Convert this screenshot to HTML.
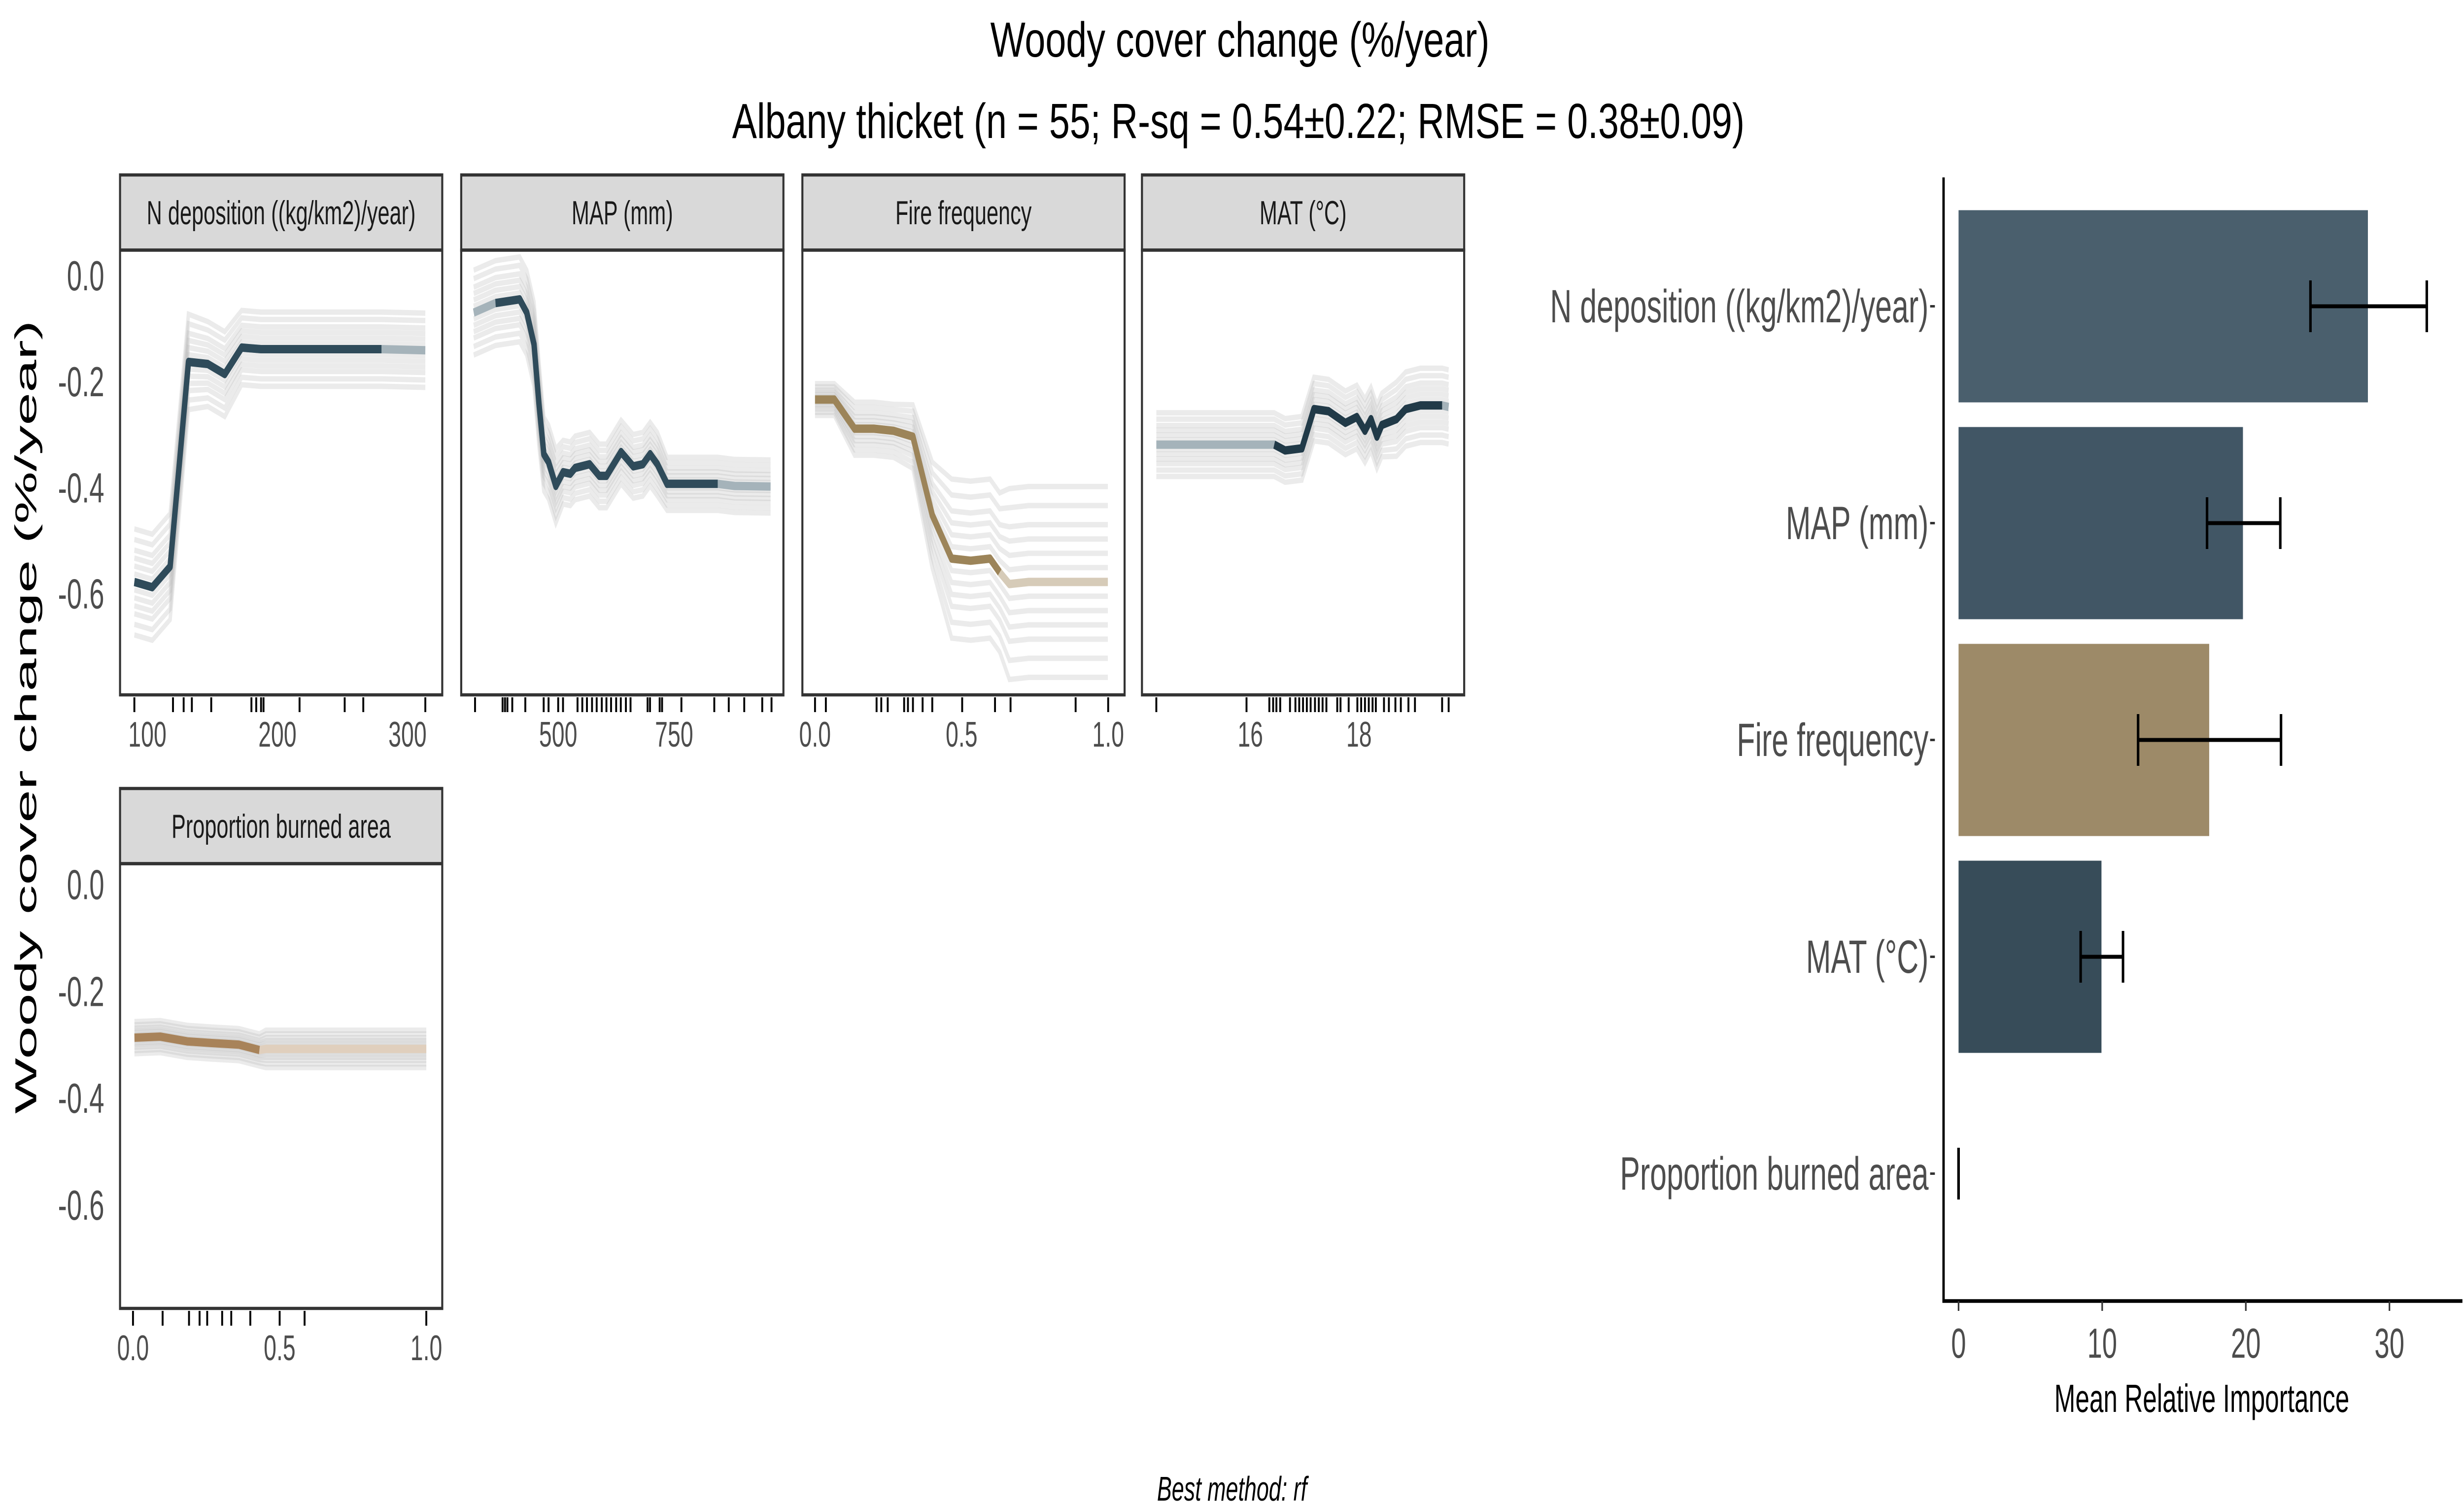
<!DOCTYPE html>
<html><head><meta charset="utf-8"><style>
html,body{margin:0;padding:0;background:#fff;width:100vw;height:100vh;overflow:hidden;}
svg{display:block;position:absolute;left:0;top:0;width:100vw;height:100vh;font-family:"Liberation Sans",Arial,sans-serif;}
</style></head><body>
<svg id="chart" xmlns="http://www.w3.org/2000/svg" viewBox="0 0 1560 612" preserveAspectRatio="none">
<rect x="0" y="0" width="1560" height="612" fill="#fff"/>
<text x="785" y="23" font-size="20" text-anchor="middle" fill="#000" textLength="316" lengthAdjust="spacingAndGlyphs">Woody cover change (%/year)</text>
<text x="784" y="56" font-size="20" text-anchor="middle" fill="#000" textLength="641" lengthAdjust="spacingAndGlyphs">Albany thicket (n = 55; R-sq = 0.54±0.22; RMSE = 0.38±0.09)</text>
<text transform="translate(23,291) rotate(-90)" font-size="19" text-anchor="middle" fill="#000" textLength="322" lengthAdjust="spacingAndGlyphs">Woody cover change (%/year)</text>
<text x="780" y="609" font-size="14" font-style="italic" text-anchor="middle" fill="#000">Best method: rf</text>
<g id="panels"></g>
<g id="bars"></g>
</svg>
<script>
// ---------- Partial dependence data ----------
const nX = [90,103.8,117.5,131.6,146.5,159.5,172.5,187.3,280,313.7];
const nY = [-0.578,-0.588,-0.549,-0.163,-0.167,-0.186,-0.136,-0.139,-0.139,-0.141];
const nSpread = [0.1,0.1,0.1,0.09,0.08,0.08,0.07,0.07,0.07,0.07];
const nRug = [90,119.7,127.9,134.2,149.1,180,183.7,187.4,189.3,217,251.7,266,313.7];
const nTicks = [100,200,300];

const mapX = [317.8,364.8,416.9,432.2,447.9,458.4,469,479.2,494.9,510.6,526.2,536.4,567.8,588.6,604.2,635.6,661.8,682.6,698.3,713.9,734.7,844,880.5,958];
const mapY = [-0.070,-0.052,-0.045,-0.070,-0.130,-0.241,-0.337,-0.352,-0.397,-0.371,-0.374,-0.363,-0.356,-0.378,-0.378,-0.333,-0.360,-0.356,-0.337,-0.356,-0.393,-0.393,-0.397,-0.398];
const mapSpread = [0.08,0.08,0.08,0.08,0.08,0.08,0.07,0.07,0.07,0.06,0.06,0.06,0.06,0.06,0.06,0.06,0.06,0.06,0.06,0.06,0.05,0.05,0.05,0.05];
const mapRug = [320.7,380.1,385.3,390.5,401,429.1,468.7,479.2,500,510.4,541.7,552,562,573,583,594,604,614,625,635,646,656,692.8,698,718.8,724,765.7,836.6,867.8,901.2,940,960];
const mapTicks = [500,750];

const fireX = [0,0.066,0.135,0.201,0.268,0.334,0.4,0.466,0.531,0.597,0.63,0.663,0.729,0.999];
const fireY = [-0.234,-0.234,-0.289,-0.289,-0.293,-0.304,-0.452,-0.534,-0.538,-0.534,-0.560,-0.582,-0.578,-0.578];
const fireSpread = [0.03,0.03,0.05,0.05,0.05,0.06,0.1,0.15,0.15,0.15,0.15,0.18,0.18,0.18];
const fireRug = [0,0.037,0.21,0.226,0.248,0.304,0.317,0.334,0.367,0.4,0.502,0.614,0.667,0.889,1.0];
const fireTicks = [0,0.5,1.0];

const matX = [14.27,16.44,16.64,16.95,17.17,17.44,17.75,17.96,18.11,18.22,18.33,18.42,18.69,18.86,19.13,19.53,19.65];
const matY = [-0.319,-0.319,-0.330,-0.326,-0.252,-0.256,-0.278,-0.267,-0.293,-0.271,-0.304,-0.282,-0.271,-0.252,-0.245,-0.245,-0.248];
const matSpread = [0.06,0.06,0.06,0.06,0.06,0.06,0.06,0.06,0.06,0.06,0.06,0.06,0.07,0.07,0.07,0.07,0.07];
const matRug = [14.27,15.93,16.35,16.42,16.48,16.55,16.73,16.83,16.9,16.97,17.04,17.11,17.19,17.26,17.33,17.4,17.6,17.66,17.81,17.97,18.04,18.11,18.18,18.25,18.31,18.46,18.55,18.67,18.77,18.91,19.03,19.53,19.65];
const matTicks = [16,18];

const propX = [0.005,0.093,0.186,0.268,0.361,0.431,0.453,1.0];
const propY = [-0.287,-0.285,-0.294,-0.297,-0.300,-0.310,-0.308,-0.308];
const propSpread = [0.03,0.03,0.03,0.03,0.03,0.03,0.035,0.035];
const propRug = [0,0.101,0.191,0.227,0.253,0.304,0.335,0.4,0.5,0.585,1.0];
const propTicks = [0,0.5,1.0];

const yTicks = [0,-0.2,-0.4,-0.6];
const iceOffsets = [-1,-0.8,-0.6,-0.45,-0.3,-0.15,0,0.15,0.3,0.45,0.6,0.8,1];

// ---------- Importance data ----------
const impCats = ["N deposition ((kg/km2)/year)","MAP (mm)","Fire frequency","MAT (°C)","Proportion burned area"];
const impVals = [28.5,19.8,17.45,9.95,0];
const impLo = [24.5,17.3,12.5,8.5,0];
const impHi = [32.6,22.4,22.45,11.45,0];
const impColors = ["#4a5f6d","#415665","#9d8a68","#374c59","#374c59"];
const impTicks = [0,10,20,30];

const NS = "http://www.w3.org/2000/svg";
function mk(tag, attrs, parent){const e=document.createElementNS(NS,tag);for(const k in attrs)e.setAttribute(k,attrs[k]);if(parent)parent.appendChild(e);return e;}
function lin(d0,d1,r0,r1){return v=>r0+(v-d0)*(r1-r0)/(d1-d0);}

const panels = [
 {id:"n-deposition",label:"N deposition ((kg/km2)/year)",L:76,R:280,top:71,row:0,xs:lin(100,300,93.3,258),X:nX,Y:nY,S:nSpread,rug:nRug,ticks:nTicks,fmt:v=>String(v),dark:[90,280],c:["#2f4b5a","#a5b3ba"]},
 {id:"map",label:"MAP (mm)",L:292,R:496,top:71,row:0,xs:lin(500,750,353.4,426.8),X:mapX,Y:mapY,S:mapSpread,rug:mapRug,ticks:mapTicks,fmt:v=>String(v),dark:[364.8,844],c:["#2f4b5a","#a5b3ba"]},
 {id:"fire-frequency",label:"Fire frequency",L:508,R:712,top:71,row:0,xs:lin(0,1,516,701.6),X:fireX,Y:fireY,S:fireSpread,rug:fireRug,ticks:fireTicks,fmt:v=>v.toFixed(1),dark:[0,0.63],c:["#9c8459","#d6cbb8"]},
 {id:"mat",label:"MAT (°C)",L:723,R:927,top:71,row:0,xs:lin(16,18,791.6,860.4),X:matX,Y:matY,S:matSpread,rug:matRug,ticks:matTicks,fmt:v=>String(v),dark:[16.44,19.53],c:["#213a48","#a5b3ba"]},
 {id:"proportion-burned",label:"Proportion burned area",L:76,R:280,top:320,row:1,xs:lin(0,1,84.2,269.9),X:propX,Y:propY,S:propSpread,rug:propRug,ticks:propTicks,fmt:v=>v.toFixed(1),dark:[0,0.431],c:["#a8835a","#e0cfbd"]}
];

const pg = document.getElementById("panels");
panels.forEach(p=>{
  const g = mk("g",{},pg);
  
  
  const stripB = p.top+30.5, bot = p.row===0?282:531;
  const ys = p.row===0?lin(0,-0.6,111.8,240.9):lin(0,-0.6,358.9,489);
  const st = mk("rect",{x:p.L,y:p.top,width:p.R-p.L,height:stripB-p.top,fill:"#d9d9d9",stroke:"#333","stroke-width":1.3},g);
  
  
  const stt = mk("text",{x:(p.L+p.R)/2,y:p.top+20,"font-size":13.5,"text-anchor":"middle",fill:"#1a1a1a"},g);
  stt.textContent = p.label;
  
  
  const ice = mk("g",{},g);
  
  
  iceOffsets.forEach(o=>{
    const pts = p.X.map((x,i)=>p.xs(x).toFixed(2)+","+ys(p.Y[i]+o*p.S[i]).toFixed(2)).join(" ");
    const pl = mk("polyline",{points:pts,fill:"none",stroke:"#b8b8b8","stroke-opacity":0.28,"stroke-width":2.2},ice);
    
    
  });
  const all = p.X.map((x,i)=>p.xs(x).toFixed(2)+","+ys(p.Y[i]).toFixed(2)).join(" ");
  const lt = mk("polyline",{points:all,fill:"none",stroke:p.c[1],"stroke-width":3.4,"stroke-linejoin":"round"},g);
  
  
  const dk = p.X.map((x,i)=>[x,p.Y[i]]).filter(d=>d[0]>=p.dark[0]-1e-9&&d[0]<=p.dark[1]+1e-9)
    .map(d=>p.xs(d[0]).toFixed(2)+","+ys(d[1]).toFixed(2)).join(" ");
  const dl = mk("polyline",{points:dk,fill:"none",stroke:p.c[0],"stroke-width":3.4,"stroke-linejoin":"round"},g);
  
  
  const bd = mk("rect",{x:p.L,y:stripB,width:p.R-p.L,height:bot-stripB,fill:"none",stroke:"#333","stroke-width":1.3},g);
  
  
  p.rug.forEach(r=>{
    const l = mk("line",{x1:p.xs(r),x2:p.xs(r),y1:bot+1,y2:bot+7,stroke:"#000","stroke-width":1.2},g);
    
    
  });
  p.ticks.forEach(t=>{
    const tx = mk("text",{x:p.xs(t),y:bot+21,"font-size":14.5,"text-anchor":"middle",fill:"#4d4d4d"},g);
    tx.textContent = p.fmt(t);
    
    
  });
  if(p.L<100){
    yTicks.forEach(t=>{
      const ty = mk("text",{x:66,y:ys(t)+6,"font-size":17,"text-anchor":"end",fill:"#4d4d4d"},g);
      ty.textContent = t.toFixed(1);
      
      
    });
  }
});

// ---------- Importance bar chart ----------
const bg = document.getElementById("bars");
const bx = lin(0,30,1240,1512.8);
const catY0 = 124.3, catStep = 88.0, barH = 78;
impCats.forEach((c,i)=>{
  const cy = catY0 + i*catStep;
  if(impVals[i]>0){
    const r = mk("rect",{x:bx(0),y:cy-barH/2,width:bx(impVals[i])-bx(0),height:barH,fill:impColors[i]},bg);
    
    
  }
  const eb = mk("g",{stroke:"#000","stroke-width":1.6,fill:"none"},bg);
  
  
  mk("line",{x1:bx(impLo[i]),x2:bx(impHi[i]),y1:cy,y2:cy},eb);
  mk("line",{x1:bx(impLo[i]),x2:bx(impLo[i]),y1:cy-10.5,y2:cy+10.5},eb);
  mk("line",{x1:bx(impHi[i]),x2:bx(impHi[i]),y1:cy-10.5,y2:cy+10.5},eb);
  const tk = mk("line",{x1:1222,x2:1225,y1:cy,y2:cy,stroke:"#333","stroke-width":1},bg);
  
  
  const lb = mk("text",{x:1221,y:cy+6.5,"font-size":19,"text-anchor":"end",fill:"#4d4d4d"},bg);
  lb.textContent = c;
  
  
});
const ax = mk("polyline",{points:"1230.5,72 1230.5,528 1559,528",fill:"none",stroke:"#000","stroke-width":1.5},bg);


impTicks.forEach(t=>{
  const l = mk("line",{x1:bx(t),x2:bx(t),y1:528,y2:532,stroke:"#333","stroke-width":1},bg);
  
  
  const tx = mk("text",{x:bx(t),y:551,"font-size":17,"text-anchor":"middle",fill:"#4d4d4d"},bg);
  tx.textContent = String(t);
  
  
});
const xt = mk("text",{x:1394,y:573,"font-size":16,"text-anchor":"middle",fill:"#000"},bg);
xt.textContent = "Mean Relative Importance";


</script>
</body></html>
